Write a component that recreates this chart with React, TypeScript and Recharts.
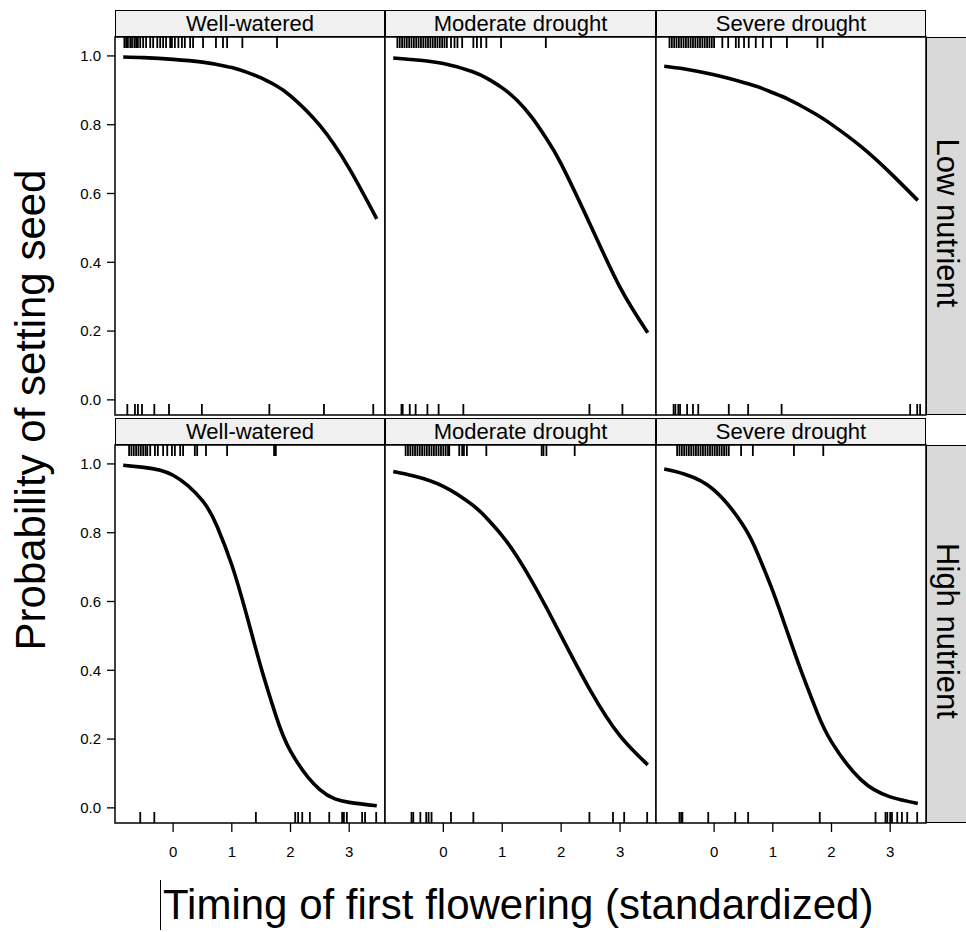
import React from "react";
import {
  ComposedChart,
  Line,
  Scatter,
  XAxis,
  YAxis,
  ReferenceArea,
} from "recharts";

// column / row labels
const columnTitles = ["Well-watered", "Moderate drought", "Severe drought"];
const rowTitles = ["Low nutrient", "High nutrient"];

const xTicks = [0, 1, 2, 3];
const yTicks = [0, 0.2, 0.4, 0.6, 0.8, 1.0];

// fitted curves
const curveX = [-0.85, -0.5, 0, 0.5, 0.75, 1, 1.25, 1.5, 1.75, 2, 2.5, 3, 3.47];
const lowWellWatered = [0.997, 0.995, 0.99, 0.982, 0.975, 0.966, 0.953, 0.936, 0.914, 0.884, 0.798, 0.673, 0.526];
const lowModerate = [0.994, 0.989, 0.978, 0.954, 0.934, 0.907, 0.871, 0.822, 0.76, 0.686, 0.507, 0.327, 0.195];
const lowSevere = [0.97, 0.962, 0.945, 0.923, 0.91, 0.893, 0.875, 0.853, 0.829, 0.801, 0.737, 0.66, 0.58];
const highWellWatered = [0.996, 0.99, 0.967, 0.893, 0.818, 0.706, 0.562, 0.407, 0.269, 0.165, 0.053, 0.016, 0.006];
const highModerate = [0.978, 0.965, 0.935, 0.88, 0.84, 0.791, 0.731, 0.66, 0.582, 0.5, 0.34, 0.209, 0.125];
const highSevere = [0.985, 0.97, 0.924, 0.82, 0.736, 0.63, 0.51, 0.39, 0.28, 0.192, 0.082, 0.032, 0.013];

// rug marks: plants that set seed (top) and did not (bottom)
const rugLowWWTop = [-0.83, -0.8, -0.77, -0.73, -0.7, -0.66, -0.63, -0.6, -0.56, -0.51, -0.46, -0.39, -0.34, -0.27, -0.22, -0.17, -0.12, -0.05, -0.02, 0.03, 0.09, 0.15, 0.2, 0.29, 0.34, 0.51, 0.73, 0.85, 0.92, 1.18, 1.77];
const rugLowWWBottom = [-0.78, -0.65, -0.6, -0.53, -0.32, -0.07, 0.49, 1.64, 2.57, 3.41];
const rugLowMDTop = [-0.78, -0.74, -0.7, -0.66, -0.62, -0.58, -0.54, -0.5, -0.46, -0.42, -0.38, -0.34, -0.3, -0.26, -0.22, -0.18, -0.14, -0.1, -0.06, -0.02, 0.02, 0.06, 0.13, 0.19, 0.24, 0.32, 0.51, 0.57, 0.64, 0.73, 0.98, 1.74];
const rugLowMDBottom = [-0.71, -0.69, -0.57, -0.47, -0.27, -0.08, 0.34, 2.48, 3.04];
const rugLowSDTop = [-0.76, -0.72, -0.68, -0.64, -0.6, -0.56, -0.52, -0.48, -0.44, -0.4, -0.36, -0.32, -0.28, -0.24, -0.2, -0.16, -0.12, -0.08, -0.04, 0, 0.14, 0.24, 0.37, 0.42, 0.51, 0.59, 0.71, 0.83, 0.97, 1.24, 1.76, 1.85];
const rugLowSDBottom = [-0.69, -0.66, -0.61, -0.58, -0.46, -0.36, -0.27, 0.25, 0.58, 1.15, 3.34, 3.46, 3.51];
const rugHighWWTop = [-0.75, -0.71, -0.67, -0.63, -0.59, -0.55, -0.51, -0.47, -0.44, -0.39, -0.31, -0.26, -0.17, -0.1, -0.02, 0.03, 0.12, 0.17, 0.37, 0.41, 0.56, 0.92, 1.72, 1.75];
const rugHighWWBottom = [-0.56, -0.32, 1.41, 2.08, 2.13, 2.2, 2.33, 2.66, 2.88, 2.91, 2.96, 3.22, 3.27, 3.46];
const rugHighMDTop = [-0.64, -0.6, -0.56, -0.52, -0.48, -0.44, -0.4, -0.36, -0.32, -0.28, -0.24, -0.2, -0.16, -0.12, -0.08, -0.04, 0, 0.04, 0.08, 0.1, 0.27, 0.32, 0.35, 0.4, 0.73, 1.67, 1.7, 1.75, 2.23];
const rugHighMDBottom = [-0.54, -0.51, -0.39, -0.29, -0.25, -0.2, 0.13, 0.51, 2.48, 2.88, 3.07, 3.46];
const rugHighSDTop = [-0.63, -0.59, -0.55, -0.51, -0.47, -0.43, -0.39, -0.35, -0.31, -0.27, -0.23, -0.19, -0.15, -0.11, -0.07, -0.03, 0.01, 0.05, 0.09, 0.13, 0.17, 0.21, 0.25, 0.46, 0.66, 1.36, 1.86];
const rugHighSDBottom = [-0.59, -0.56, -0.54, -0.1, 0.36, 0.58, 1.8, 2.75, 2.92, 2.95, 3.0, 3.03, 3.12, 3.2, 3.29, 3.46];

const X_DOMAIN: [number, number] = [-0.99, 3.61];
const Y_DOMAIN: [number, number] = [-0.044, 1.055];

const FONT = "'Liberation Sans', Arial, sans-serif";

const colX = [115, 385, 656];
const colW = [270, 271, 270];
const rowY = [37, 445];
const rowH = 378;

const panels = [
  { row: 0, col: 0, curve: lowWellWatered, top: rugLowWWTop, bottom: rugLowWWBottom },
  { row: 0, col: 1, curve: lowModerate, top: rugLowMDTop, bottom: rugLowMDBottom },
  { row: 0, col: 2, curve: lowSevere, top: rugLowSDTop, bottom: rugLowSDBottom },
  { row: 1, col: 0, curve: highWellWatered, top: rugHighWWTop, bottom: rugHighWWBottom },
  { row: 1, col: 1, curve: highModerate, top: rugHighMDTop, bottom: rugHighMDBottom },
  { row: 1, col: 2, curve: highSevere, top: rugHighSDTop, bottom: rugHighSDBottom },
];

const RUG = 11;

function rugDown(props: any) {
  return <line x1={props.cx} x2={props.cx} y1={props.cy} y2={props.cy + RUG} stroke="#000" strokeWidth={1.8} />;
}
function rugUp(props: any) {
  return <line x1={props.cx} x2={props.cx} y1={props.cy} y2={props.cy - RUG} stroke="#000" strokeWidth={1.8} />;
}

function Panel({ row, col, curve, top, bottom }: any) {
  const showY = col === 0;
  const showX = row === 1;
  const yW = showY ? 60 : 0;
  const xH = showX ? 45 : 0;
  const pad = 3;
  const w = colW[col] + yW + pad * 2;
  const h = rowH + xH + pad * 2;
  const lineData = curveX.map((x, i) => ({ x, p: curve[i] }));
  const topData = top.map((x: number) => ({ x, p: Y_DOMAIN[1] }));
  const bottomData = bottom.map((x: number) => ({ x, p: Y_DOMAIN[0] }));
  return (
    <div style={{ position: "absolute", left: colX[col] - yW - pad, top: rowY[row] - pad }}>
      <ComposedChart width={w} height={h} margin={{ top: pad, right: pad, bottom: pad, left: pad }}>
        <XAxis
          type="number"
          dataKey="x"
          domain={X_DOMAIN}
          ticks={xTicks}
          allowDataOverflow
          hide={!showX}
          height={xH}
          axisLine={false}
          tickLine={{ stroke: "#000", strokeWidth: 1.3 }}
          tickSize={9}
          tickMargin={14}
          tick={{ fill: "#000", fontSize: 15, fontFamily: FONT }}
        />
        <YAxis
          type="number"
          dataKey="p"
          domain={Y_DOMAIN}
          ticks={yTicks}
          allowDataOverflow
          hide={!showY}
          width={yW}
          axisLine={false}
          tickLine={{ stroke: "#000", strokeWidth: 1.3 }}
          tickSize={8}
          tickMargin={6}
          tickFormatter={(v: number) => v.toFixed(1)}
          tick={{ fill: "#000", fontSize: 15, fontFamily: FONT }}
        />
        <ReferenceArea
          x1={X_DOMAIN[0]}
          x2={X_DOMAIN[1]}
          y1={Y_DOMAIN[0]}
          y2={Y_DOMAIN[1]}
          fill="#fff"
          fillOpacity={1}
          stroke="#000"
          strokeWidth={1.5}
          ifOverflow="visible"
        />
        <Scatter data={topData} dataKey="p" shape={rugDown} isAnimationActive={false} />
        <Scatter data={bottomData} dataKey="p" shape={rugUp} isAnimationActive={false} />
        <Line
          data={lineData}
          dataKey="p"
          type="natural"
          stroke="#000"
          strokeWidth={3.6}
          dot={false}
          activeDot={false}
          isAnimationActive={false}
        />
      </ComposedChart>
    </div>
  );
}

const stripTop = (row: number) => (row === 0 ? 10 : 418);

export default function App() {
  return (
    <div style={{ position: "absolute", left: 0, top: 0, width: 966, height: 932, background: "#fff", fontFamily: FONT, overflow: "hidden" }}>
      {[0, 1].map((row) =>
        columnTitles.map((t, col) => (
          <div
            key={`s${row}${col}`}
            style={{
              position: "absolute",
              left: colX[col],
              top: stripTop(row),
              width: colW[col],
              height: 27,
              boxSizing: "border-box",
              border: "1.5px solid #000",
              background: "#f0f0f0",
              fontSize: 22,
              lineHeight: "25px",
              textAlign: "center",
              color: "#000",
            }}
          >
            {t}
          </div>
        ))
      )}
      {rowTitles.map((t, row) => (
        <div
          key={`r${row}`}
          style={{
            position: "absolute",
            left: 926,
            top: rowY[row],
            width: 42,
            height: rowH,
            boxSizing: "border-box",
            border: "1.5px solid #000",
            background: "#d9d9d9",
          }}
        >
          <div
            style={{
              position: "absolute",
              left: 20,
              top: rowH / 2 - 4,
              transform: "translate(-50%, -50%) rotate(90deg)",
              whiteSpace: "nowrap",
              fontSize: 31,
              color: "#000",
            }}
          >
            {t}
          </div>
        </div>
      ))}
      {panels.map((p) => (
        <Panel key={`${p.row}${p.col}`} {...p} />
      ))}
      <div
        style={{
          position: "absolute",
          left: 31,
          top: 410,
          transform: "translate(-50%, -50%) rotate(-90deg)",
          whiteSpace: "nowrap",
          fontSize: 42,
          color: "#000",
        }}
      >
        Probability of setting seed
      </div>
      <div style={{ position: "absolute", left: 160, top: 880, width: 1, height: 50, background: "#000" }} />
      <div
        style={{
          position: "absolute",
          left: 163,
          top: 881,
          whiteSpace: "nowrap",
          fontSize: 42,
          lineHeight: "48px",
          color: "#000",
        }}
      >
        Timing of first flowering (standardized)
      </div>
    </div>
  );
}
